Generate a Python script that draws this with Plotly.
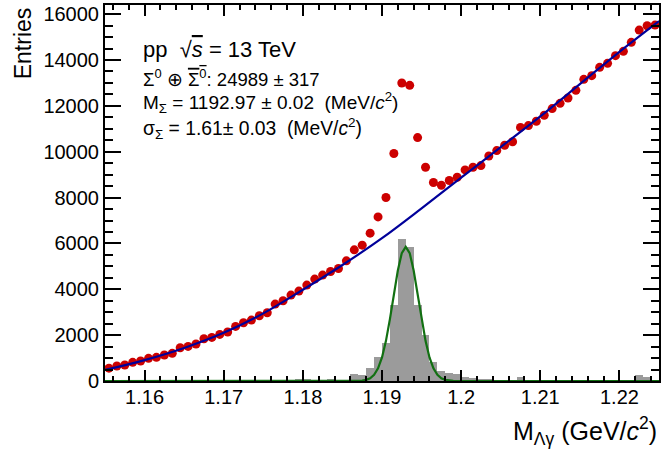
import plotly.graph_objects as go

# ---- data ----
bin_width = 0.001
bin_centers = [round(1.1555 + 0.001 * i, 4) for i in range(70)]
entries = [560, 654, 697, 814, 871, 988, 1031, 1133, 1205, 1452,
           1510, 1612, 1844, 1902, 2033, 2135, 2382, 2541, 2658, 2846,
           2977, 3355, 3500, 3747, 3921, 4183, 4444, 4618, 4778, 4908,
           5242, 5721, 5926, 6448, 7158, 8004, 9921, 12997, 12897, 10618,
           9324, 8657, 8540, 8745, 8888, 9207, 9324, 9397, 9816, 10051,
           10282, 10435, 11060, 11140, 11328, 11589, 11881, 12112, 12343, 12679,
           13158, 13319, 13681, 13855, 14191, 14378, 14770, 15306, 15497, 15524]

signal = [0, 0, 0, 0, 0, 0, 0, 0, 0, 0,
          0, 0, 0, 0, 0, 0, 0, 0, 0, 0,
          0, 0, 0, 0, 60, 60, 0, 40, 80, 0,
          0, 300, 250, 550, 1060, 1670, 3310, 6190, 5830, 3310,
          2000, 840, 450, 360, 300, 190, 115, 50, 50, 0,
          0, 0, 190, 0, 0, 0, 0, 0, 0, 0,
          0, 0, 0, 0, 0, 0, 0, 260, 175, 0]

bkg_x = [1.155, 1.160, 1.165, 1.170, 1.175, 1.180, 1.185, 1.190,
         1.195, 1.200, 1.205, 1.210, 1.215, 1.220, 1.225]
bkg_y = [480, 910, 1440, 2100, 2950, 3980, 5060, 6230,
         7530, 8870, 10200, 11540, 12950, 14360, 15700]

gaus_x = [1.155, 1.1865, 1.187, 1.1875, 1.188, 1.1885, 1.189, 1.1895, 1.190, 1.1905,
          1.191, 1.1915, 1.192, 1.1925, 1.193, 1.1935, 1.194, 1.1945, 1.195,
          1.1955, 1.196, 1.1965, 1.197, 1.1975, 1.198, 1.1985, 1.199, 1.1995, 1.225]
gaus_y = [0, 0, 6, 20, 50, 120, 270, 550, 1030, 1750,
          2700, 3790, 4820, 5580, 5850, 5580, 4820, 3790, 2700,
          1750, 1030, 550, 270, 120, 50, 20, 6, 0, 0]

x_tickvals = [1.16, 1.17, 1.18, 1.19, 1.20, 1.21, 1.22]
x_ticktext = ["1.16", "1.17", "1.18", "1.19", "1.2", "1.21", "1.22"]
y_tickvals = [0, 2000, 4000, 6000, 8000, 10000, 12000, 14000, 16000]
y_ticktext = ["0", "2000", "4000", "6000", "8000", "10000", "12000", "14000", "16000"]

FONT = "Liberation Sans, Arial, Helvetica, sans-serif"
NB = "\u00a0"

fig = go.Figure()
fig.add_trace(go.Bar(x=bin_centers, y=signal, width=bin_width,
                     marker=dict(color="#9b9b9b", line=dict(width=0)),
                     showlegend=False))
fig.add_trace(go.Scatter(x=bin_centers, y=entries, mode="markers",
                         marker=dict(color="#cc0000", size=9, line=dict(width=0)),
                         showlegend=False))
fig.add_trace(go.Scatter(x=bkg_x, y=bkg_y, mode="lines",
                         line=dict(color="#00009a", width=2.2, shape="spline", smoothing=1.0),
                         showlegend=False))
fig.add_trace(go.Scatter(x=gaus_x, y=gaus_y, mode="lines",
                         line=dict(color="#127012", width=2.2),
                         showlegend=False))

L, R, T, B = 105, 661, 5, 381
W, H = 662, 453

def px(xp):
    return (xp - L) / (R - L)

def py(yp):
    return (B - yp) / (B - T)

axis_common = dict(showgrid=False, zeroline=False, showline=True, linecolor="black",
                   linewidth=2, mirror="ticks", ticks="inside", tickcolor="black",
                   tickwidth=2, tickfont=dict(family=FONT, size=20, color="black"))

fig.update_xaxes(range=[1.155, 1.225], tickmode="array", tickvals=x_tickvals,
                 ticktext=x_ticktext, ticklen=11, ticklabelstandoff=-3,
                 minor=dict(tickmode="linear", tick0=1.16, dtick=0.002, ticks="inside",
                            ticklen=5, tickwidth=2, tickcolor="black"),
                 **axis_common)
fig.update_yaxes(range=[0, 16400], tickmode="array", tickvals=y_tickvals,
                 ticktext=y_ticktext, ticklen=16,
                 minor=dict(tickmode="linear", tick0=0, dtick=500, ticks="inside",
                            ticklen=8, tickwidth=2, tickcolor="black"),
                 **axis_common)

annots = [
    dict(text="pp" + NB + NB + "√<span style='text-decoration:overline'><i>s</i></span> = 13 TeV",
         x=px(141), y=py(49), size=22),
    dict(text="Σ<sup>0</sup> ⊕ <span style='text-decoration:overline'>Σ<sup>0</sup></span>: 24989 ± 317",
         x=px(141), y=py(78), size=18.5),
    dict(text="M<sub>Σ</sub> = 1192.97 ± 0.02" + NB + NB + "(MeV/<i>c</i><sup>2</sup>)",
         x=px(141), y=py(103), size=19),
    dict(text="σ<sub>Σ</sub> = 1.61± 0.03" + NB + NB + "(MeV/<i>c</i><sup>2</sup>)",
         x=px(141), y=py(128), size=19.3),
]
for a in annots:
    fig.add_annotation(text=a["text"], x=a["x"], y=a["y"], xref="paper", yref="paper",
                       xanchor="left", yanchor="middle", showarrow=False,
                       font=dict(family=FONT, size=a["size"], color="black"))

fig.add_annotation(text="M<sub>Λγ</sub> (GeV/<i>c</i><sup>2</sup>)", x=1.0, y=py(431),
                   xref="paper", yref="paper", xanchor="right", yanchor="middle",
                   showarrow=False, font=dict(family=FONT, size=25, color="black"))
fig.add_annotation(text="Entries", x=px(23), y=1.0, xref="paper", yref="paper",
                   xanchor="center", yanchor="top", textangle=-90, showarrow=False,
                   font=dict(family=FONT, size=23, color="black"))

fig.update_layout(width=W, height=H, margin=dict(l=L, r=W - R, t=T, b=H - B),
                  paper_bgcolor="white", plot_bgcolor="white", bargap=0,
                  showlegend=False)

fig.write_html("out.html")
